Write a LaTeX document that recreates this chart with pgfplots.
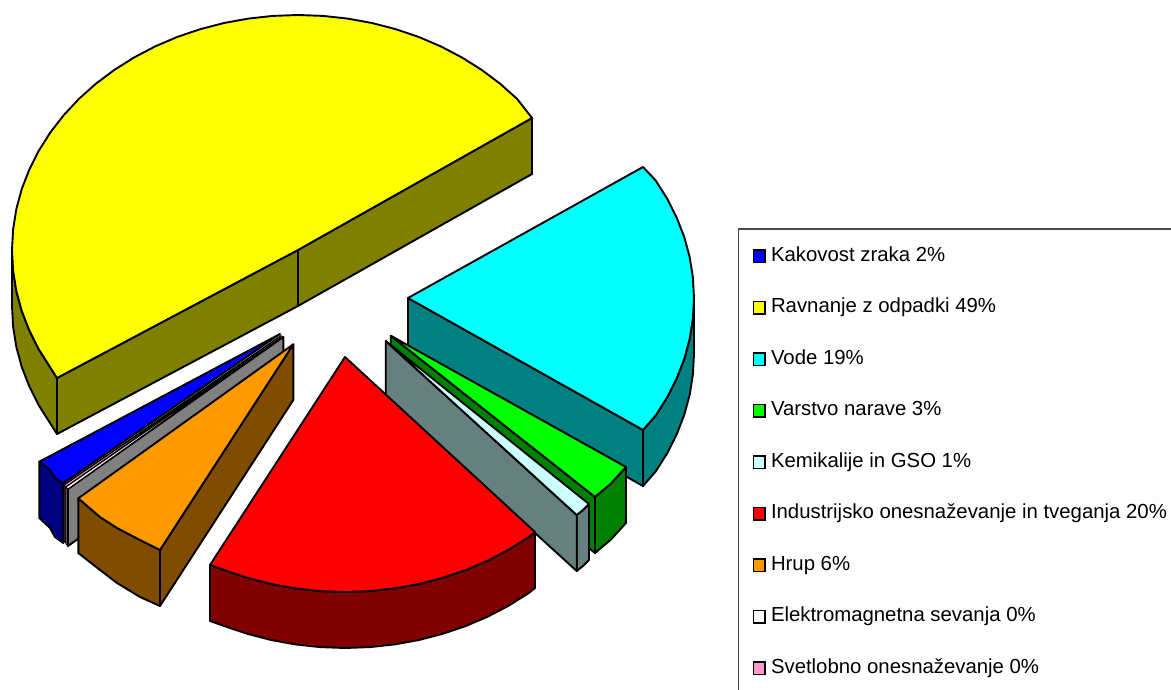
\documentclass[border=0pt]{standalone}
\usepackage{fontspec}
\setmainfont{Liberation Sans}
\usepackage{pgfplots}
\pgfplotsset{compat=1.18}
\definecolor{cY}{HTML}{FFFF00}\definecolor{dY}{HTML}{808000}
\definecolor{cC}{HTML}{00FFFF}\definecolor{dC}{HTML}{008080}
\definecolor{cG}{HTML}{00FF00}\definecolor{dG}{HTML}{008000}
\definecolor{cL}{HTML}{CCFFFF}\definecolor{dL}{HTML}{668080}
\definecolor{cR}{HTML}{FF0000}\definecolor{dR}{HTML}{800000}
\definecolor{cB}{HTML}{0000FF}\definecolor{dB}{HTML}{000080}
\definecolor{cO}{HTML}{FF9900}\definecolor{dO}{HTML}{804D00}
\definecolor{cP}{HTML}{FF99CC}\definecolor{dP}{HTML}{804D66}
\definecolor{dW}{HTML}{808080}
\begin{document}
\begin{tikzpicture}
\begin{axis}[
  at={(0,0)}, anchor=south west,
  scale only axis, width=1171pt, height=690pt,
  xmin=0, xmax=1171, ymin=0, ymax=690, y dir=reverse,
  hide axis, clip=true,
  every axis plot/.append style={forget plot},
  slice/.style={draw=black, line width=1.9pt, line join=round},
  legend style={at={(axis cs:749.5,244.5)}, anchor=north west, draw=none, fill=none,
    font=\fontsize{20.35}{24}\selectfont, row sep=32.5pt,
    nodes={text height=14.5pt, text depth=4.5pt, inner xsep=5.3pt, inner ysep=0pt}},
  legend cell align=left,
  legend image code/.code={\draw[#1, line width=1.4pt] (0.6pt,-6.4pt) rectangle (12.2pt,6.4pt);},
]
% legend
\addlegendimage{fill=cB, draw=black}\addlegendentry{Kakovost zraka 2\%}
\addlegendimage{fill=cY, draw=black}\addlegendentry{Ravnanje z odpadki 49\%}
\addlegendimage{fill=cC, draw=black}\addlegendentry{Vode 19\%}
\addlegendimage{fill=cG, draw=black}\addlegendentry{Varstvo narave 3\%}
\addlegendimage{fill=cL, draw=black}\addlegendentry{Kemikalije in GSO 1\%}
\addlegendimage{fill=cR, draw=black}\addlegendentry{Industrijsko onesnaževanje in tveganja 20\%}
\addlegendimage{fill=cO, draw=black}\addlegendentry{Hrup 6\%}
\addlegendimage{fill=white, draw=black}\addlegendentry{Elektromagnetna sevanja 0\%}
\addlegendimage{fill=cP, draw=black}\addlegendentry{Svetlobno onesnaževanje 0\%}
% legend frame
\addplot[draw=black!70, line width=1pt] coordinates {(738.5,690) (738.5,229) (1171,229)};
% yellow
\addplot[slice, fill=dY] coordinates {(12,250) (13.1,270.5) (16.3,290.8) (21.7,310.8) (29.3,330.4) (38.8,349.3) (50.3,367.5) (57,378) (57,434) (50.3,423.5) (38.8,405.3) (29.3,386.4) (21.7,366.8) (16.3,346.8) (13.1,326.5) (12,306)} --cycle;
\addplot[slice, fill=dY] coordinates {(298,250) (57,378) (57,434) (298,306)} --cycle;
\addplot[slice, fill=dY] coordinates {(298,250) (532,118) (532,174) (298,306)} --cycle;
\addplot[slice, fill=cY] coordinates {(298,250) (532,118) (517.1,98.9) (500.2,83.8) (481.8,70) (462,57.5) (441,46.5) (418.9,37) (395.8,29.2) (372,23) (347.7,18.6) (322.9,15.9) (298,15) (273.1,15.9) (248.3,18.6) (224,23) (200.2,29.2) (177.1,37) (155,46.5) (134,57.5) (114.2,70) (95.8,83.8) (78.9,98.9) (63.7,115.2) (50.3,132.5) (38.8,150.7) (29.3,169.6) (21.7,189.2) (16.3,209.2) (13.1,229.5) (12,250) (13.1,270.5) (16.3,290.8) (21.7,310.8) (29.3,330.4) (38.8,349.3) (50.3,367.5) (57,378)} --cycle;
% cyan
\addplot[slice, fill=dC] coordinates {(694,298) (692.9,318.5) (689.7,338.8) (684.3,358.8) (676.7,378.4) (667.2,397.3) (655.7,415.5) (643,430) (643,486) (655.7,471.5) (667.2,453.3) (676.7,434.4) (684.3,414.8) (689.7,394.8) (692.9,374.5) (694,354)} --cycle;
\addplot[slice, fill=dC] coordinates {(408,298) (643,430) (643,486) (408,354)} --cycle;
\addplot[slice, fill=cC] coordinates {(408,298) (643,167) (655.7,180.5) (667.2,198.7) (676.7,217.6) (684.3,237.2) (689.7,257.2) (692.9,277.5) (694,298) (692.9,318.5) (689.7,338.8) (684.3,358.8) (676.7,378.4) (667.2,397.3) (655.7,415.5) (643,430)} --cycle;
% green
\addplot[slice, fill=dG] coordinates {(626,467) (611,483.5) (595,497) (595,553) (611,539.5) (626,523)} --cycle;
\addplot[slice, fill=dG] coordinates {(390.7,335.7) (595,497) (595,553) (390.7,392)} --cycle;
\addplot[slice, fill=cG] coordinates {(390.7,335.7) (626,467) (611,483.5) (595,497)} --cycle;
% light cyan
\addplot[slice, fill=dL] coordinates {(589,504) (583,510) (576.7,515) (576.7,571) (583,566) (589,560)} --cycle;
\addplot[slice, fill=dL] coordinates {(385.7,341) (576.7,515) (576.7,571) (385.7,397)} --cycle;
\addplot[slice, fill=cL] coordinates {(385.7,341) (589,504) (583,510) (576.7,515)} --cycle;
% red
\addplot[slice, fill=dR] coordinates {(535,532) (528.8,537) (509,549.5) (488,560.5) (465.9,570) (442.8,577.8) (419,584) (394.7,588.4) (369.9,591.1) (345,592) (320.1,591.1) (295.3,588.4) (271,584) (247.2,577.8) (224.1,570) (210,565) (210,621) (224.1,626) (247.2,633.8) (271,640) (295.3,644.4) (320.1,647.1) (345,648) (369.9,647.1) (394.7,644.4) (419,640) (442.8,633.8) (465.9,626) (488,616.5) (509,605.5) (528.8,593) (535,588)} --cycle;
\addplot[slice, fill=cR] coordinates {(345,357) (535,532) (528.8,537) (509,549.5) (488,560.5) (465.9,570) (442.8,577.8) (419,584) (394.7,588.4) (369.9,591.1) (345,592) (320.1,591.1) (295.3,588.4) (271,584) (247.2,577.8) (224.1,570) (210,565)} --cycle;
% blue
\addplot[slice, fill=dB] coordinates {(39.3,461.7) (50,470) (55,478) (63.3,483.3) (63.3,543) (55,537) (50,528) (39.3,518)} --cycle;
\addplot[slice, fill=cB] coordinates {(280,334) (39.3,461.7) (50,470) (55,478) (63.3,483.3)} --cycle;
% pink sliver
\addplot[draw=black, line width=1.4pt, fill=dP] coordinates {(64,485) (66,487) (66,543) (64,541)} --cycle;
\addplot[draw=black, line width=1.4pt, fill=cP] coordinates {(281.5,335.5) (64,485) (66,487)} --cycle;
% white sliver and grey wall
\addplot[draw=black, line width=1pt, fill=white] coordinates {(66,487) (68,489) (68,546) (66,544)} --cycle;
\addplot[slice, fill=dW] coordinates {(283.3,337) (68,489) (68,546) (283.3,393)} --cycle;
\addplot[draw=black, line width=1pt, fill=white] coordinates {(282.5,336.5) (66,487) (68,489)} --cycle;
% orange
\addplot[slice, fill=dO] coordinates {(293.3,344.3) (160,550) (160,606) (293.3,400)} --cycle;
\addplot[slice, fill=dO] coordinates {(160,550) (140,540) (117,528) (100,517) (78.3,498.3) (78.3,553) (100,570) (117,583) (140,597) (160,606)} --cycle;
\addplot[slice, fill=cO] coordinates {(293.3,344.3) (160,550) (140,540) (117,528) (100,517) (78.3,498.3)} --cycle;
\end{axis}
\pgfresetboundingbox
\useasboundingbox (0,0) rectangle (1171pt,690pt);
\end{tikzpicture}
\end{document}
